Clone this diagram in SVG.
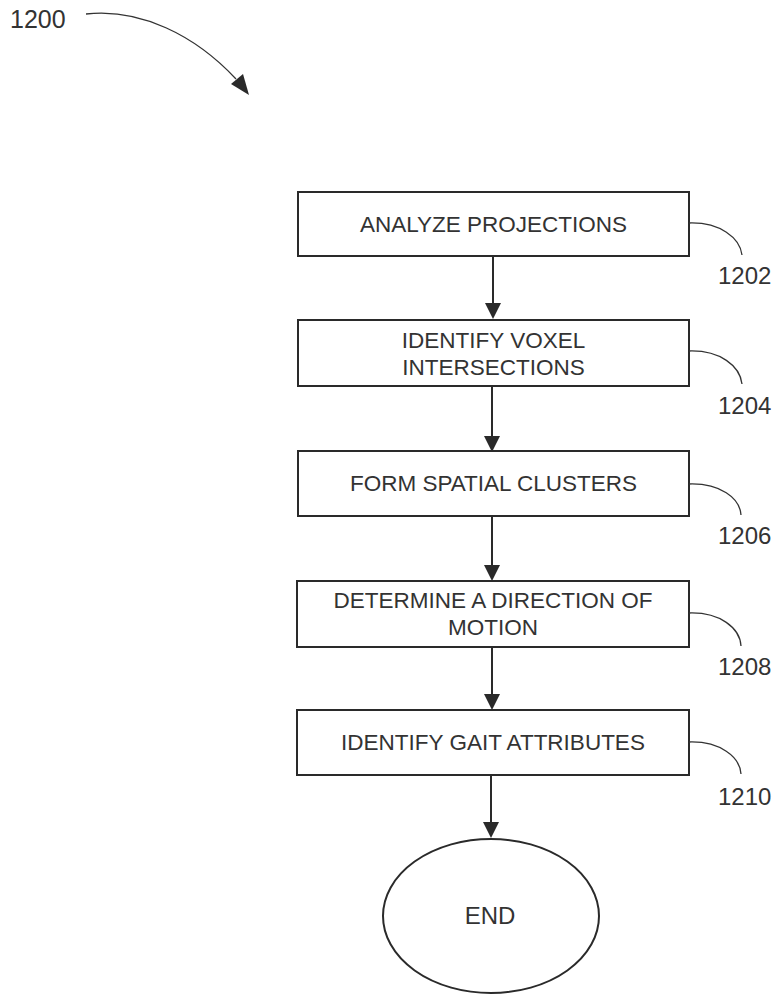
<svg xmlns="http://www.w3.org/2000/svg" width="780" height="995" viewBox="0 0 780 995">
<defs>
<style>
.box{fill:#fff;stroke:#2a2a2a;stroke-width:2}
.t{font-family:"Liberation Sans",Arial,sans-serif;font-size:22.5px;fill:#333;text-anchor:middle}
.lbl{font-family:"Liberation Sans",Arial,sans-serif;font-size:24px;fill:#333}
.ln{fill:none;stroke:#2a2a2a;stroke-width:2}
.ld{fill:none;stroke:#333;stroke-width:1.3}
</style>
<marker id="ah" markerWidth="16" markerHeight="16" viewBox="0 0 16 16" refX="8" refY="15" orient="auto-start-reverse" markerUnits="userSpaceOnUse">
<path d="M0,0 L16,0 L8,15 Z" fill="#2a2a2a" transform="rotate(0)"/>
</marker>
</defs>
<rect width="780" height="995" fill="#fff"/>
<g id="ref1200">
<text class="lbl" x="10" y="28" style="font-size:25px">1200</text>
<path class="ld" d="M86,14 C140,8 195,35 236,79"/>
<polygon points="231,84 243,74 249,95" fill="#2a2a2a"/>
</g>
<g id="connectors">
<line class="ln" x1="493" y1="256" x2="493" y2="304"/>
<polygon points="485,303 501,303 493,319" fill="#2a2a2a"/>
<line class="ln" x1="492" y1="386" x2="492" y2="437"/>
<polygon points="484,436 500,436 492,452" fill="#2a2a2a"/>
<line class="ln" x1="492" y1="516" x2="492" y2="566"/>
<polygon points="484,565 500,565 492,581" fill="#2a2a2a"/>
<line class="ln" x1="492" y1="647" x2="492" y2="695"/>
<polygon points="484,694 500,694 492,710" fill="#2a2a2a"/>
<line class="ln" x1="491" y1="775" x2="491" y2="823"/>
<polygon points="483,822 499,822 491,838" fill="#2a2a2a"/>
</g>
<g id="n1202">
<rect class="box" x="298" y="192" width="391" height="64"/>
<text class="t" x="493.5" y="232">ANALYZE PROJECTIONS</text>
<path class="ld" d="M689,223 C720,222 740,238 742,255"/>
<text class="lbl" x="718" y="284">1202</text>
</g>
<g id="n1204">
<rect class="box" x="298" y="320" width="391" height="66"/>
<text class="t" x="493.5" y="348">IDENTIFY VOXEL</text>
<text class="t" x="493.5" y="375">INTERSECTIONS</text>
<path class="ld" d="M689,351 C720,350 740,366 742,384"/>
<text class="lbl" x="718" y="414">1204</text>
</g>
<g id="n1206">
<rect class="box" x="298" y="451" width="391" height="65"/>
<text class="t" x="493.5" y="491">FORM SPATIAL CLUSTERS</text>
<path class="ld" d="M689,484 C720,483 740,498 741,515"/>
<text class="lbl" x="718" y="544">1206</text>
</g>
<g id="n1208">
<rect class="box" x="297" y="581" width="392" height="66"/>
<text class="t" x="493" y="608">DETERMINE A DIRECTION OF</text>
<text class="t" x="493" y="635">MOTION</text>
<path class="ld" d="M689,613 C720,612 740,628 741,646"/>
<text class="lbl" x="718" y="675">1208</text>
</g>
<g id="n1210">
<rect class="box" x="297" y="710" width="392" height="65"/>
<text class="t" x="493" y="750">IDENTIFY GAIT ATTRIBUTES</text>
<path class="ld" d="M689,742 C720,741 740,757 741,774"/>
<text class="lbl" x="718" y="805">1210</text>
</g>
<g id="end">
<ellipse cx="491" cy="916" rx="108" ry="77" fill="#fff" stroke="#2a2a2a" stroke-width="2"/>
<text class="t" x="490" y="924" style="font-size:24px">END</text>
</g>
</svg>
